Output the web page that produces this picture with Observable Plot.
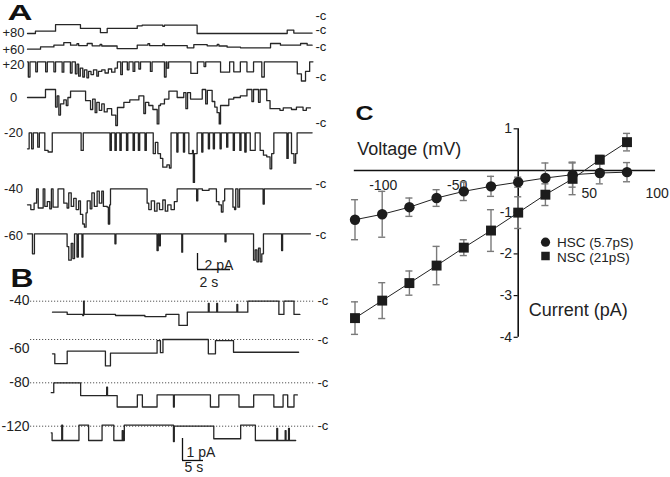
<!DOCTYPE html>
<html><head><meta charset="utf-8">
<script src="https://cdn.jsdelivr.net/npm/d3@7"></script>
<script src="https://cdn.jsdelivr.net/npm/@observablehq/plot@0.6"></script>
<style>
html,body{margin:0;padding:0;background:#fff;}
#fig{position:relative;width:670px;height:477px;overflow:hidden;background:#fff;}
#fig > svg{position:absolute;background:transparent;}
</style></head><body><div id="fig"></div>
<script>
// ---------------- DATA ----------------
// Panel C: I-V relation
const voltages   = [-120,-100,-80,-60,-40,-20,0,20,40,60,80];
const hscCurrent = [-1.18,-1.05,-0.88,-0.66,-0.50,-0.38,-0.28,-0.18,-0.10,-0.06,-0.04];
const hscErr     = [0.48,0.55,0.22,0.20,0.22,0.24,0.12,0.36,0.30,0.26,0.23];
const nscCurrent = [-3.54,-3.12,-2.70,-2.28,-1.85,-1.44,-1.01,-0.58,-0.20,0.26,0.68];
const nscErr     = [0.39,0.43,0.29,0.46,0.19,0.50,0.38,0.26,0.38,0.10,0.21];
const xTickLabels = [-100,-50,50,100];
const yTickLabels = [1,-1,-2,-3,-4];
const seriesNames = ["HSC (5.7pS)","NSC (21pS)"];

// Panel A: single-channel records, step lists [time s, current pA]
const rowLabelsA = ["+80","+60","+20","0","-20","-40","-60"];
const trA80 = [[0,0],[0.48,0.29],[1.7,1.1],[3.21,0.63],[4.42,0.1],[4.83,0.63],[6.65,0.96],[6.95,1.04],[8.2,0.9],[8.3,1.04],[10.28,0],[15.74,0.42],[16.14,0.05]];
const trA60 = [[0,0],[0.79,0.29],[1.6,0.5],[2.2,0.83],[2.61,0.5],[3.0,0.7],[3.1,0.45],[3.62,0.71],[3.92,0.42],[4.4,0.6],[4.5,0.4],[5.43,0.08],[6.65,0.5],[7.3,0.7],[7.4,0.45],[8.2,0.65],[8.3,0.45],[9.68,0.17],[10.08,0.58],[10.89,0.42],[11.5,0.6],[11.6,0.4],[12.1,0.25],[12.91,0.17],[14.73,0.71],[15.33,0.5],[16.55,0.71],[16.95,0.5]];
const trA20 = [[0,0],[0.05,-1.9],[0.15,0],[0.5,-1.25],[0.6,0],[1.1,-1.25],[1.2,0],[1.6,-1.25],[1.7,0],[2.1,-1.3],[2.2,0],[2.6,-1.4],[2.7,0],[2.9,-1.5],[3.0,-0.3],[3.1,-1.8],[3.2,-0.8],[3.35,-1.9],[3.45,-1.0],[3.6,-2.0],[3.7,-1.2],[3.85,-1.6],[4.0,-1.0],[4.2,-1.8],[4.3,-1.2],[4.5,-1.0],[4.7,-1.4],[4.9,-0.9],[5.1,-1.3],[5.3,-0.8],[5.45,0],[5.65,-1.6],[5.75,0],[6.05,-1.0],[6.15,0],[6.4,-1.2],[6.5,0],[6.75,-0.9],[6.85,0],[7.45,-1.2],[7.55,0],[8.3,-1.9],[8.4,0],[8.45,-0.8],[8.55,0],[9.9,-1.45],[10.3,0],[10.7,-0.6],[10.8,0],[11.7,-1.3],[12.25,0],[12.5,-1.25],[12.9,0],[13.3,-1.25],[13.7,0],[14.2,-1.9],[14.35,0],[16.35,-1.5],[16.6,-2.4],[16.85,-1.2],[17.1,0]];
const trA0 = [[0,0],[1.09,1.0],[1.7,-1.2],[1.8,0.2],[1.9,-2.2],[2.0,-0.8],[2.2,-0.3],[2.35,-1.0],[2.45,0],[2.61,0.8],[3.52,-0.4],[3.82,-1.5],[3.95,-0.2],[4.1,-1.9],[4.2,-0.6],[4.35,-1.6],[4.5,-0.8],[4.65,-1.8],[4.83,-1.4],[5.1,-2.2],[5.35,-3.5],[5.45,-1.25],[5.84,-0.6],[6.2,-0.3],[6.75,0.2],[7.05,-2.0],[7.15,-0.6],[7.35,-1.0],[7.6,-1.5],[7.86,-3.3],[7.96,-1.0],[8.06,-0.8],[8.3,-0.2],[8.57,0.8],[9.07,0],[9.47,0.6],[9.6,-1.4],[9.7,0.6],[9.88,-0.2],[10.59,1.0],[10.8,-0.8],[10.9,0.9],[11.19,-0.5],[11.35,-1.2],[11.49,-1.9],[11.62,-3.3],[11.7,-1.0],[12.2,-0.2],[12.5,0],[12.9,0.2],[13.3,1.0],[13.6,-0.5],[13.7,1.0],[14.0,-0.6],[14.1,1.0],[14.5,-0.4],[14.7,-1.4],[15.3,-1.6],[15.5,-1.3],[16.0,-1.5],[16.3,-1.2],[16.7,-1.6],[16.9,-1.3]];
const trAm20 = [[0,-2.0],[0.1,0],[0.25,-2.0],[0.35,0],[0.62,-1.8],[0.72,0],[1.05,-2.2],[1.25,-2.4],[1.5,0],[3.25,-2.2],[3.38,0],[5.0,-2.2],[5.08,0],[5.3,-2.2],[5.38,0],[5.6,-2.2],[5.68,0],[6.0,-2.2],[6.08,0],[6.4,-2.2],[6.48,0],[6.72,-2.2],[6.8,0],[7.12,-2.2],[7.2,0],[7.62,-2.6],[7.75,-1.2],[7.9,-2.6],[8.06,-3.2],[8.2,-4.3],[8.45,-4.0],[8.6,-4.4],[8.7,0],[9.05,-2.4],[9.12,0],[9.45,-2.4],[9.52,0],[9.78,-2.6],[10.0,-2.2],[10.05,-6.2],[10.12,-2.6],[10.28,0],[10.56,-2.4],[10.63,0],[10.96,-2.0],[11.03,0],[11.26,-2.0],[11.33,0],[11.67,-2.0],[11.74,0],[12.07,-1.8],[12.14,0],[12.47,-2.2],[12.54,0],[12.87,-2.2],[12.94,0],[13.17,-2.4],[13.25,0],[13.5,-2.2],[13.8,0],[14.1,-2.2],[14.3,-2.8],[14.5,-3.0],[14.7,-4.5],[14.8,-2.6],[14.93,0],[15.72,-3.2],[15.8,0],[16.0,-2.6],[16.15,-3.8],[16.25,-2.6],[16.34,0]];
const trAm40 = [[0,-2.0],[0.2,-2.6],[0.4,-1.8],[0.55,0],[0.65,-2.4],[0.95,0],[1.05,-2.2],[1.2,-1.6],[1.35,-2.5],[1.45,0],[1.55,-2.3],[1.85,0],[2.2,-1.8],[2.4,-2.4],[2.5,-0.5],[2.65,-2.2],[2.8,-1.2],[2.95,-2.6],[3.1,-1.5],[3.21,-3.2],[3.35,-4.4],[3.45,-4.8],[3.55,-3.0],[3.62,-1.5],[3.8,-2.5],[3.9,-0.5],[4.05,-2.2],[4.22,-0.3],[4.35,-1.8],[4.5,-0.3],[4.6,-2.2],[4.83,-2.3],[4.9,-4.4],[4.98,-2.0],[5.03,0],[7.25,-1.8],[7.35,-2.6],[7.5,-1.5],[7.7,-2.8],[7.85,-1.8],[8.0,-2.6],[8.2,-1.4],[8.35,-2.8],[8.5,-2.0],[8.7,-2.6],[8.9,-1.6],[9.07,0],[10.25,-1.5],[10.32,0],[10.6,-0.2],[11.0,0],[11.45,-1.6],[11.6,-2.0],[11.75,-2.9],[11.85,-1.5],[11.95,0],[12.45,-2.3],[12.55,-2.6],[12.62,0],[12.75,-2.3],[12.85,0],[14.28,-1.9],[14.35,0]];
const trAm60 = [[0,0],[0.3,-2.5],[0.42,0],[2.4,-1.6],[2.5,-3.3],[2.65,-1.2],[2.75,-3.1],[2.85,0],[3.0,-2.9],[3.08,0],[3.3,-2.9],[3.36,0],[5.3,-1.25],[5.36,0],[7.85,-2.1],[7.92,0],[8.0,-1.5],[8.05,0],[9.35,-2.3],[9.4,0],[11.97,-1.0],[12.03,0],[13.7,-3.3],[13.8,-2.0],[13.9,-3.5],[14.0,-1.8],[14.1,-3.5],[14.2,-2.5],[14.3,0],[15.4,-2.1],[15.46,0]];
const endA = [17.25,17.25,17.3,17.15,17.25,17.2,17.15];

// Panel B: step lists [time s, current pA]
const rowLabelsB = ["-40","-60","-80","-120"];
const trBm40 = [[0,-0.5],[3.5,-0.6],[7.2,-0.65],[7.4,0],[7.55,-0.6],[15,-0.65],[22,-0.7],[27,-0.6],[30.1,-1.1],[32.1,-0.5],[37.1,-0.1],[37.3,-0.5],[39.1,-0.1],[39.3,-0.5],[43.9,-0.15],[44.1,-0.5],[46.5,0],[53.9,-0.6],[55.1,0],[57.5,-0.6]];
const trBm60 = [[0,-0.65],[0.55,-1.1],[3.5,-0.53],[12.6,-1.2],[13.8,-0.62],[24.9,-0.05],[25.7,-0.6],[26.3,0],[37.1,-0.65],[38.8,-0.05],[43.1,-0.58]];
const trBm80 = [[-0.3,-0.45],[0.3,0],[6.7,-0.58],[12.9,-0.2],[13.1,-0.58],[15.4,-1.1],[20.2,-0.55],[21.4,-1.1],[24.9,-0.55],[28.8,-1.1],[29.0,-0.55],[37.6,-1.1],[39.6,-0.55],[44.4,-1.1],[47.9,-0.55],[52.7,-1.1],[54.9,-0.55],[56,-1.1],[57.5,-0.55]];
const trBm120 = [[-0.3,-0.3],[-0.1,-0.65],[2.2,0.05],[2.4,-0.65],[6.3,0.05],[8.6,-0.65],[11.8,0.05],[14.6,-0.65],[16.6,-0.2],[16.8,-0.65],[17.1,0.05],[28.8,-0.7],[29.0,0],[38.4,-0.57],[44.8,0.05],[48.3,-0.65],[53.4,-0.1],[53.6,-0.65],[55.4,-0.2],[55.6,-0.65],[56.2,-0.1],[56.4,-0.65]];
const endB = [58.9,58.6,58.3,57.9];

const scaleBarA = {s: 2, pA: 2};
const scaleBarB = {s: 5, pA: 1};

// ---------------- LAYOUT ----------------
const FONT = '"Liberation Sans", Arial, Helvetica, sans-serif';
const fig = document.getElementById("fig");
const INK = "#222";

function stepsToPoints(steps, end, row) {
  const pts = [];
  for (let k = 0; k < steps.length; k++) {
    const [t, v] = steps[k];
    const tn = k + 1 < steps.length ? steps[k + 1][0] : end;
    pts.push({t, v, row}, {t: tn, v, row});
  }
  return pts;
}
function place(svg, left, top) {
  svg.style.left = left + "px"; svg.style.top = top + "px";
  fig.appendChild(svg);
}
function stretch(svg, txt, len) {
  svg.querySelectorAll("text").forEach(el => {
    if (el.textContent === txt) { el.setAttribute("textLength", len); el.setAttribute("lengthAdjust", "spacingAndGlyphs"); }
  });
}

// ---------- Panel A ----------
{
  const W = 340, H = 292, x0 = 27, pxS = 16.5, pxPA = 8;
  const tA = px => (px - x0) / pxS, yA = px => -px / pxPA;
  const basePx = [33, 48.7, 61.3, 97, 132.3, 188.3, 233.3];
  const labelPx = [32.5, 49.3, 64.8, 97, 132, 188, 235];
  const cPx = [15, 29, 46, 76, 122, 183, 234];
  const traces = [trA80, trA60, trA20, trA0, trAm20, trAm40, trAm60];
  const pts = traces.flatMap((s, i) => stepsToPoints(s, endA[i], i));
  const sbT = tA(197), sbY = yA(269);
  const svg = Plot.plot({
    width: W, height: H, margin: 0,
    style: {background: "none", fontFamily: FONT},
    x: {domain: [tA(0), tA(W)], axis: null},
    y: {domain: [yA(H), yA(0)], axis: null},
    marks: [
      Plot.line(pts, {x: "t", y: d => yA(basePx[d.row]) + d.v, z: "row", stroke: "#262626", strokeWidth: 1.3}),
      Plot.text(rowLabelsA, {x: tA(13), y: (d, i) => yA(labelPx[i]), text: d => d, fontSize: 13, fill: INK, textAnchor: "middle"}),
      Plot.text(cPx, {x: tA(315), y: d => yA(d), text: () => "-c", fontSize: 13, fill: INK, textAnchor: "start"}),
      Plot.text(["A"], {x: tA(19.5), y: yA(12.5), text: d => d, fontSize: 22, fontWeight: "bold", fill: "#111"}),
      Plot.ruleX([sbT], {y1: sbY, y2: sbY + scaleBarA.pA, stroke: "#111", strokeWidth: 1.3}),
      Plot.ruleY([sbY], {x1: sbT, x2: sbT + scaleBarA.s, stroke: "#111", strokeWidth: 1.3}),
      Plot.text([scaleBarA.pA + " pA"], {x: tA(204), y: yA(265), text: d => d, fontSize: 14, textAnchor: "start", fill: INK}),
      Plot.text([scaleBarA.s + " s"], {x: tA(199), y: yA(282), text: d => d, fontSize: 14, textAnchor: "start", fill: INK})
    ]
  });
  stretch(svg, "A", 25);
  place(svg, 0, 0);
}

// ---------- Panel B ----------
{
  const W = 340, H = 222, top = 255, x0 = 52, pxS = 4.2, pxPA = 22;
  const tB = px => (px - x0) / pxS, yB = px => -(px - top) / pxPA;
  const basePx = [300.7, 339, 382.3, 425.7];
  const labelPx = [300, 348, 382, 426];
  const traces = [trBm40, trBm60, trBm80, trBm120];
  const pts = traces.flatMap((s, i) => stepsToPoints(s, endB[i], i));
  const sbT = tB(182), sbY = yB(460);
  const svg = Plot.plot({
    width: W, height: H, margin: 0,
    style: {background: "none", fontFamily: FONT},
    x: {domain: [tB(0), tB(W)], axis: null},
    y: {domain: [yB(top + H), yB(top)], axis: null},
    marks: [
      Plot.ruleY(basePx.map(yB), {x1: tB(30), x2: tB(315), stroke: "#555", strokeWidth: 1, strokeDasharray: "1.2,1.8"}),
      Plot.line(pts, {x: "t", y: d => yB(basePx[d.row]) + d.v, z: "row", stroke: "#262626", strokeWidth: 1.3}),
      Plot.text(rowLabelsB, {x: tB(29), y: (d, i) => yB(labelPx[i]), text: d => d, fontSize: 14, fill: INK, textAnchor: "end"}),
      Plot.text(basePx, {x: tB(317), y: d => yB(d), text: () => "-c", fontSize: 13, fill: INK, textAnchor: "start"}),
      Plot.text(["B"], {x: tB(21.5), y: yB(278), text: d => d, fontSize: 26, fontWeight: "bold", fill: "#111"}),
      Plot.ruleX([sbT], {y1: sbY, y2: sbY + scaleBarB.pA, stroke: "#111", strokeWidth: 1.3}),
      Plot.ruleY([sbY], {x1: sbT, x2: sbT + scaleBarB.s, stroke: "#111", strokeWidth: 1.3}),
      Plot.text([scaleBarB.pA + " pA"], {x: tB(186), y: yB(452), text: d => d, fontSize: 14, textAnchor: "start", fill: INK}),
      Plot.text([scaleBarB.s + " s"], {x: tB(184), y: yB(467), text: d => d, fontSize: 14, textAnchor: "start", fill: INK})
    ]
  });
  stretch(svg, "B", 23);
  place(svg, 0, top);
}

// ---------- Panel C ----------
{
  const left = 340, top = 100, W = 330, H = 260;
  const x0px = 517.7 - left, pxMV = 1.36, y0px = 170 - top, pxPA = 41.7;
  const xC = px => (px - left - x0px) / pxMV, yC = px => -(px - top - y0px) / pxPA;
  const hsc = voltages.map((v, i) => ({v, i: hscCurrent[i], e: hscErr[i]}));
  const nsc = voltages.map((v, i) => ({v, i: nscCurrent[i], e: nscErr[i]}));
  const both = hsc.concat(nsc);
  const cap = 2.6;
  const xLabDx = [1, 7, 3, 3], xLabDy = [15, 15, 23, 23];
  const xLabs = xTickLabels.map((d, k) => ({d, k}));
  const svg = Plot.plot({
    width: W, height: H, margin: 0,
    style: {background: "none", fontFamily: FONT},
    x: {domain: [xC(left), xC(left + W)], axis: null},
    y: {domain: [yC(top + H), yC(top)], axis: null},
    marks: [
      Plot.ruleY([0], {x1: -120.5, x2: 101, stroke: "#111", strokeWidth: 1.6}),
      Plot.ruleX([0], {y1: -4, y2: 1, stroke: "#111", strokeWidth: 1.6}),
      Plot.ruleY(yTickLabels, {x1: -3, x2: 0, stroke: "#111", strokeWidth: 1.2}),
      Plot.text(yTickLabels, {x: -4.5, y: d => d, text: d => String(d), textAnchor: "end", fontSize: 14, fill: INK}),
      Plot.text(xLabs, {x: o => o.d + xLabDx[o.k] / pxMV, y: o => -xLabDy[o.k] / pxPA, text: o => String(o.d), fontSize: 14, fill: INK, textAnchor: "middle"}),
      Plot.ruleX(both, {x: "v", y1: d => d.i - d.e, y2: d => d.i + d.e, stroke: "#7a7a7a", strokeWidth: 1.4}),
      Plot.ruleY(both, {y: d => d.i - d.e, x1: d => d.v - cap, x2: d => d.v + cap, stroke: "#7a7a7a", strokeWidth: 1.4}),
      Plot.ruleY(both, {y: d => d.i + d.e, x1: d => d.v - cap, x2: d => d.v + cap, stroke: "#7a7a7a", strokeWidth: 1.4}),
      Plot.line(hsc, {x: "v", y: "i", stroke: "#222", strokeWidth: 1}),
      Plot.line(nsc, {x: "v", y: "i", stroke: "#222", strokeWidth: 1}),
      Plot.dot(hsc, {x: "v", y: "i", r: 5.2, symbol: "circle", fill: "#1c1c1c", stroke: "none"}),
      Plot.dot(nsc, {x: "v", y: "i", r: 5.6, symbol: "square", fill: "#1c1c1c", stroke: "none"}),
      Plot.dot([0], {x: xC(545), y: yC(241.7), r: 4.6, symbol: "circle", fill: "#1c1c1c"}),
      Plot.dot([0], {x: xC(545), y: yC(255.5), r: 4.8, symbol: "square", fill: "#1c1c1c"}),
      Plot.text(seriesNames, {x: xC(556.5), y: (d, i) => yC(i === 0 ? 242.3 : 256.7), text: d => d, textAnchor: "start", fontSize: 13.5, fill: INK}),
      Plot.text(["Voltage (mV)"], {x: xC(356.7), y: yC(148.3), text: d => d, textAnchor: "start", fontSize: 18, fill: INK}),
      Plot.text(["Current (pA)"], {x: xC(528.3), y: yC(310), text: d => d, textAnchor: "start", fontSize: 18, fill: INK}),
      Plot.text(["C"], {x: xC(364), y: yC(112.5), text: d => d, fontSize: 21, fontWeight: "bold", fill: "#111"})
    ]
  });
  stretch(svg, "C", 18);
  place(svg, left, top);
}
</script></body></html>
